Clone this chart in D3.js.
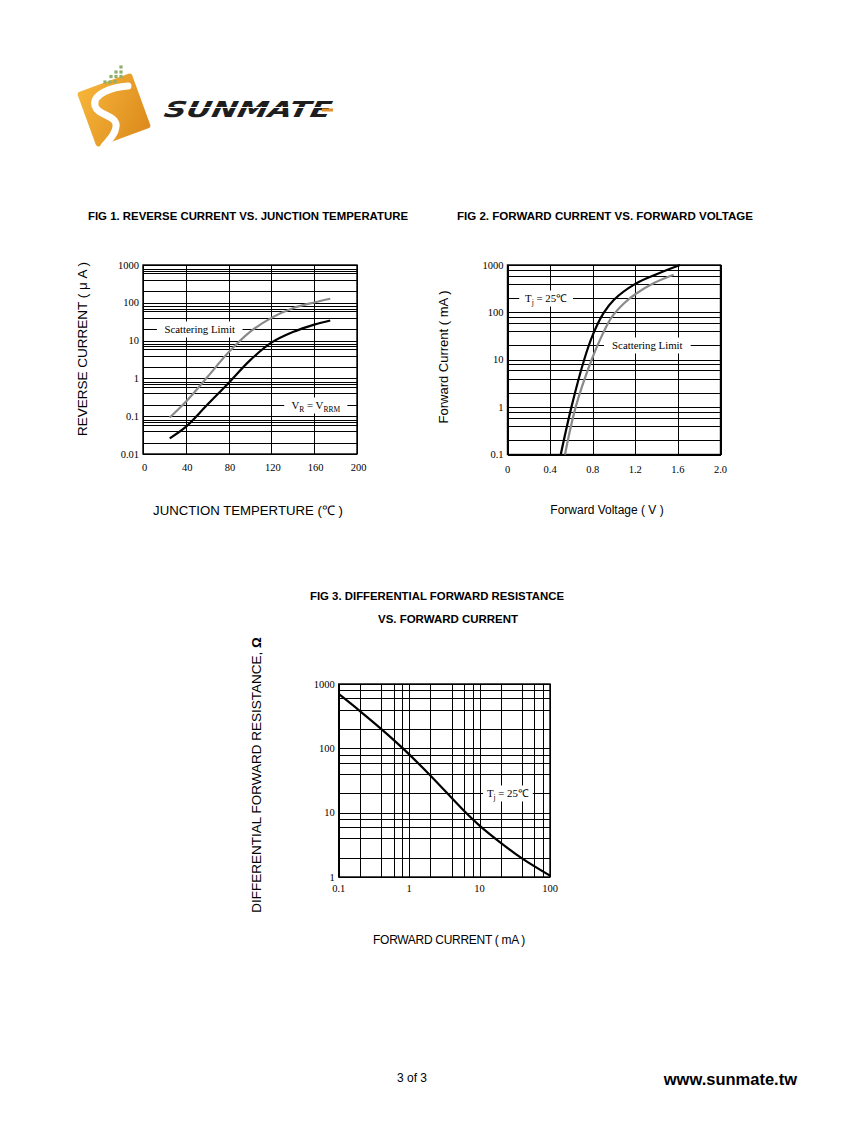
<!DOCTYPE html>
<html><head><meta charset="utf-8">
<script src="https://cdn.jsdelivr.net/npm/d3@7"></script>
<style>html,body{margin:0;padding:0;background:#fff}svg{display:block}</style>
</head><body>
<svg id="c" width="847" height="1125"></svg>
<script>
// ---------------- DATA ----------------
// Fig 1: reverse current (uA) vs junction temperature (C)
const fig1Temperature = [25, 40, 60, 80, 100, 120, 140, 160, 175];
const fig1Typical      = [0.026, 0.052, 0.2, 0.76, 3.0, 8.8, 16.8, 26.5, 34];
const fig1ScatterLimit = [0.092, 0.24, 1.07, 4.9, 17, 40, 72, 102, 128];
const fig1XTicks = [0, 40, 80, 120, 160, 200];
const fig1XTickLabels = ["0", "40", "80", "120", "160", "200"];
const fig1YTicks = [0.01, 0.1, 1, 10, 100, 1000];
const fig1YTickLabels = ["0.01", "0.1", "1", "10", "100", "1000"];
const fig1MinorSteps = [2, 4, 6, 7, 8];

// Fig 2: forward current (mA) vs forward voltage (V)
const fig2VoltTypical = [0.50, 0.60, 0.72, 0.80, 0.90, 1.00, 1.20, 1.40, 1.62];
const fig2CurrTypical = [0.1, 1, 10, 33, 95, 185, 400, 640, 1000];
const fig2VoltLimit   = [0.54, 0.64, 0.79, 0.88, 0.98, 1.10, 1.21, 1.38, 1.56];
const fig2CurrLimit   = [0.1, 1, 10, 30, 80, 160, 250, 420, 620];
const fig2XTicks = [0, 0.4, 0.8, 1.2, 1.6, 2.0];
const fig2XTickLabels = ["0", "0.4", "0.8", "1.2", "1.6", "2.0"];
const fig2YTicks = [0.1, 1, 10, 100, 1000];
const fig2YTickLabels = ["0.1", "1", "10", "100", "1000"];
const fig2MinorSteps = [2, 4, 6, 8];

// Fig 3: differential forward resistance (ohm) vs forward current (mA)
const fig3Current    = [0.1, 0.2, 0.4, 0.83, 2, 6, 10, 20, 40, 100];
const fig3Resistance = [700, 380, 201, 98, 37.9, 10.7, 6.3, 3.4, 1.95, 1.05];
const fig3XTicks = [0.1, 1, 10, 100];
const fig3XTickLabels = ["0.1", "1", "10", "100"];
const fig3YTicks = [1, 10, 100, 1000];
const fig3YTickLabels = ["1", "10", "100", "1000"];
const fig3MinorSteps = [2, 4, 6, 8];

// ---------------- DRAWING ----------------
const svg = d3.select("#c");
const SERIF = "'Liberation Serif','Times New Roman',serif";
const SANS = "'Liberation Sans',Arial,sans-serif";

// ---- logo ----
(function logo(){
  const g = svg.append("g");
  const defs = svg.append("defs");
  const grad = defs.append("linearGradient").attr("id","og").attr("x1","0").attr("y1","0").attr("x2","1").attr("y2","1");
  grad.append("stop").attr("offset","0").attr("stop-color","#f6b53a");
  grad.append("stop").attr("offset","1").attr("stop-color","#dc8a1c");
  g.append("rect").attr("x",-29).attr("y",-29).attr("width",58).attr("height",58).attr("rx",3)
    .attr("fill","url(#og)").attr("transform","translate(114,110) rotate(-20)");
  g.append("path").attr("d","M128,86 C112,87 92,94 95,106 C98,116 118,115 116,127 C115,135 109,140 104,146")
    .attr("fill","none").attr("stroke","#fff").attr("stroke-width",7).attr("stroke-linecap","round");
  const dots = [[121,67],[116,72],[121,72],[111,76.5],[116,76.5],[121,76.5],[105,82],[110,82],[115,81.5]];
  g.selectAll("rect.dot").data(dots).join("rect").attr("class","dot")
    .attr("x",d=>d[0]-1.6).attr("y",d=>d[1]-1.6).attr("width",3.2).attr("height",3.2).attr("fill","#8fb06c");
  g.append("text").attr("x",166).attr("y",117).attr("textLength",167).attr("lengthAdjust","spacingAndGlyphs")
    .attr("font-family","'DejaVu Sans',sans-serif").attr("font-weight","bold").attr("font-style","italic")
    .attr("font-size",22).attr("fill","#1e1e1e").attr("transform","skewX(-12) translate(22,0)").text("SUNMATE");
  g.append("line").attr("x1",160).attr("x2",340).attr("y1",107.5).attr("y2",107.5).attr("stroke","#fff").attr("stroke-width",1.2);
  g.append("rect").attr("x",322).attr("y",108.5).attr("width",11).attr("height",3).attr("fill","#e0902a");
})();

// ---- generic chart function ----
function chart(opt){
  const g = svg.append("g");
  const x = opt.x, y = opt.y;
  const [x0, x1] = x.range(), [y0, y1] = y.range(); // y0 bottom, y1 top
  const grid = g.append("g").attr("stroke","#000").attr("stroke-width",1).attr("shape-rendering","crispEdges");
  const hVals = [];
  opt.yTicks.forEach((d,i)=>{ hVals.push(d); if(i<opt.yTicks.length-1) opt.yMinor.forEach(m=>hVals.push(d*m)); });
  grid.selectAll("line.h").data(hVals).join("line").attr("class","h")
    .attr("x1",x0).attr("x2",x1).attr("y1",d=>Math.round(y(d))+0.5).attr("y2",d=>Math.round(y(d))+0.5);
  const vVals = [];
  if(opt.xLog){
    opt.xTicks.forEach((d,i)=>{ vVals.push(d); if(i<opt.xTicks.length-1) opt.xMinor.forEach(m=>vVals.push(d*m)); });
  } else opt.xTicks.forEach(d=>vVals.push(d));
  grid.selectAll("line.v").data(vVals).join("line").attr("class","v")
    .attr("y1",y0).attr("y2",y1).attr("x1",d=>Math.round(x(d))+0.5).attr("x2",d=>Math.round(x(d))+0.5);
  g.append("rect").attr("x",x0).attr("y",y1).attr("width",x1-x0).attr("height",y0-y1)
    .attr("fill","none").attr("stroke","#000").attr("stroke-width",1.4);
  g.selectAll("text.yt").data(opt.yTicks).join("text").attr("class","yt")
    .attr("x",x0-4).attr("y",d=>y(d)).attr("dy","0.35em").attr("text-anchor","end")
    .attr("font-family",SERIF).attr("font-size",10.5).text((d,i)=>opt.yTickLabels[i]);
  g.selectAll("text.xt").data(opt.xTicks).join("text").attr("class","xt")
    .attr("x",d=>x(d)+(opt.xLabelShift||0)).attr("y",opt.xLabelY).attr("dy","0.35em").attr("text-anchor","middle")
    .attr("font-family",SERIF).attr("font-size",10.5).text((d,i)=>opt.xTickLabels[i]);
  (opt.notes||[]).forEach(n=>{
    const xa = x(n.from), xb = x(n.to), yy = Math.round(y(n.at))+0.5;
    g.append("rect").attr("x",xa).attr("y",yy-8).attr("width",xb-xa).attr("height",16).attr("fill","#fff");
    const t = g.append("text").attr("x",(xa+xb)/2).attr("y",yy).attr("dy","0.35em").attr("text-anchor","middle")
      .attr("font-family",SERIF).attr("font-size",10.8);
    n.parts.forEach(p=>{
      const s = t.append("tspan").text(p.t);
      if(p.sub){ s.attr("font-size",7.5).attr("dy",2.5); }
      if(p.back){ s.attr("dy",-2.5); }
    });
  });
  opt.series.forEach(s=>{
    const pts = s.xs.map((v,i)=>[x(v), y(s.ys[i])]);
    g.append("path").attr("d", d3.line().curve(d3.curveCatmullRom.alpha(0.5))(pts))
      .attr("fill","none").attr("stroke",s.color).attr("stroke-width",s.w).attr("stroke-linecap","butt");
  });
  return g;
}

function titleText(txt, xx, yy, anchor, len){
  svg.append("text").attr("x",xx).attr("y",yy).attr("dy","0.35em").attr("text-anchor",anchor)
    .attr("font-family",SANS).attr("font-weight","bold").attr("font-size",11)
    .attr("textLength",len).attr("lengthAdjust","spacingAndGlyphs").text(txt);
}
function axisTitle(txt, xx, yy, size, rot){
  const t = svg.append("text").attr("text-anchor","middle").attr("dy","0.35em")
    .attr("font-family",SANS).attr("font-size",size)
    .attr("transform",`translate(${xx},${yy})${rot?" rotate(-90)":""}`);
  return t.text(txt);
}

// ---- Fig 1 ----
titleText("FIG 1. REVERSE CURRENT VS. JUNCTION TEMPERATURE", 88, 216, "start", 320);
const x1s = d3.scaleLinear().domain([0,200]).range([143,357]);
const y1s = d3.scaleLog().domain([0.01,1000]).range([454,265]);
chart({x:x1s, y:y1s, xTicks:fig1XTicks, xTickLabels:fig1XTickLabels, yTicks:fig1YTicks, yTickLabels:fig1YTickLabels,
  yMinor:fig1MinorSteps, xLabelY:467, xLabelShift:1.5,
  notes:[{from:13,to:93,at:20,parts:[{t:"Scattering Limit"}]},
         {from:132,to:191,at:0.2,parts:[{t:"V"},{t:"R",sub:true},{t:" = V",back:true},{t:"RRM",sub:true}]}],
  series:[{xs:fig1Temperature, ys:fig1ScatterLimit, color:"#8a8a8a", w:2.2},
          {xs:fig1Temperature, ys:fig1Typical, color:"#000", w:2.2}]});
axisTitle("REVERSE CURRENT ( μ A )", 82, 349, 13.5, true);
axisTitle("JUNCTION TEMPERTURE (℃ )", 248, 510, 13.2, false);

// ---- Fig 2 ----
titleText("FIG 2.  FORWARD CURRENT VS. FORWARD VOLTAGE", 457, 216, "start", 296);
const x2s = d3.scaleLinear().domain([0,2]).range([507.5,720.5]);
const y2s = d3.scaleLog().domain([0.1,1000]).range([454.5,265]);
chart({x:x2s, y:y2s, xTicks:fig2XTicks, xTickLabels:fig2XTickLabels, yTicks:fig2YTicks, yTickLabels:fig2YTickLabels,
  yMinor:fig2MinorSteps, xLabelY:469,
  notes:[{from:0.11,to:0.615,at:200,parts:[{t:"T"},{t:"j",sub:true},{t:" = 25℃",back:true}]},
         {from:0.906,to:1.72,at:20,parts:[{t:"Scattering Limit"}]}],
  series:[{xs:fig2VoltLimit, ys:fig2CurrLimit, color:"#8a8a8a", w:2.2},
          {xs:fig2VoltTypical, ys:fig2CurrTypical, color:"#000", w:2.2}]});
axisTitle("Forward Current ( mA )", 443, 357, 13, true);
axisTitle("Forward Voltage ( V )", 607, 510, 12, false);

// ---- Fig 3 ----
titleText("FIG 3.  DIFFERENTIAL FORWARD RESISTANCE", 437, 596, "middle", 254);
titleText("VS. FORWARD CURRENT", 448, 619, "middle", 140);
const x3s = d3.scaleLog().domain([0.1,100]).range([338.7,550]);
const y3s = d3.scaleLog().domain([1,1000]).range([877,684]);
chart({x:x3s, y:y3s, xLog:true, xMinor:fig3MinorSteps, xTicks:fig3XTicks, xTickLabels:fig3XTickLabels,
  yTicks:fig3YTicks, yTickLabels:fig3YTickLabels, yMinor:fig3MinorSteps, xLabelY:888,
  notes:[{from:11.2,to:57,at:20,parts:[{t:"T"},{t:"j",sub:true},{t:" = 25℃",back:true}]}],
  series:[{xs:fig3Current, ys:fig3Resistance, color:"#000", w:2.2}]});
const t3 = axisTitle("", 256, 775, 13.5, true);
t3.append("tspan").text("DIFFERENTIAL FORWARD RESISTANCE,  ");
t3.append("tspan").attr("font-weight","bold").text("Ω");
axisTitle("FORWARD CURRENT ( mA )", 449, 940, 12, false).attr("letter-spacing",-0.3);

// ---- footer ----
svg.append("text").attr("x",412).attr("y",1078).attr("dy","0.35em").attr("text-anchor","middle")
  .attr("font-family",SANS).attr("font-size",12).text("3 of 3");
svg.append("text").attr("x",797).attr("y",1079).attr("dy","0.35em").attr("text-anchor","end")
  .attr("font-family",SANS).attr("font-weight","bold").attr("font-size",16.5).text("www.sunmate.tw");
</script>
</body></html>
